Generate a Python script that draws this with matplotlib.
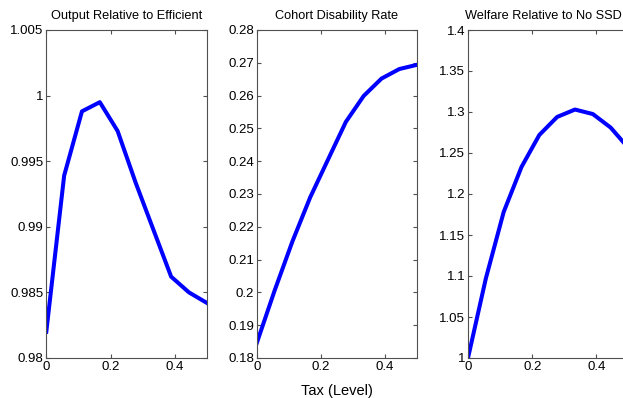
import numpy as np
import matplotlib
matplotlib.use("Agg")
import matplotlib.pyplot as plt
from matplotlib.ticker import FixedLocator, FixedFormatter

plt.rcParams['font.family'] = ['Liberation Sans', 'DejaVu Sans']

# tax grid (level)
tax = [0.0, 0.0556, 0.1111, 0.1667, 0.2222, 0.2778, 0.3333, 0.3889, 0.4444, 0.5]

output_rel = [0.9820, 0.9939, 0.9988, 0.9995, 0.9973, 0.9934, 0.9898, 0.9862, 0.9850, 0.9842]
disability = [0.1845, 0.2005, 0.2155, 0.2290, 0.2405, 0.2520, 0.2599, 0.2652, 0.2681, 0.2694]
welfare = [1.000, 1.097, 1.178, 1.233, 1.272, 1.294, 1.303, 1.2975, 1.281, 1.256]

titles = ["Output Relative to Efficient", "Cohort Disability Rate",
          "Welfare Relative to No SSD"]

yticks_out = [0.98, 0.985, 0.99, 0.995, 1.0, 1.005]
ylabels_out = ["0.98", "0.985", "0.99", "0.995", "1", "1.005"]
yticks_dis = [0.18, 0.19, 0.20, 0.21, 0.22, 0.23, 0.24, 0.25, 0.26, 0.27, 0.28]
ylabels_dis = ["0.18", "0.19", "0.2", "0.21", "0.22", "0.23", "0.24", "0.25",
               "0.26", "0.27", "0.28"]
yticks_wel = [1.0, 1.05, 1.1, 1.15, 1.2, 1.25, 1.3, 1.35, 1.4]
ylabels_wel = ["1", "1.05", "1.1", "1.15", "1.2", "1.25", "1.3", "1.35", "1.4"]
xticks = [0, 0.2, 0.4]
xlabels = ["0", "0.2", "0.4"]

series = [output_rel, disability, welfare]
yt = [yticks_out, yticks_dis, yticks_wel]
yl = [ylabels_out, ylabels_dis, ylabels_wel]

W, H = 623, 398
fig = plt.figure(figsize=(W / 100, H / 100), dpi=100)

# axes boxes in pixels (left edges); third panel runs past the right edge
lefts = [46.3, 256.7, 468.0]
width = 160.5
top, bottom = 30.0, 358.0
title_x = [0.5, 0.5, 0.47]

for i in range(3):
    ax = fig.add_axes([lefts[i] / W, 1 - bottom / H, width / W, (bottom - top) / H])
    ax.plot(tax, series[i], color='#0000ff', lw=2.9)
    ax.set_xlim(0, 0.5)
    ax.set_ylim(yt[i][0], yt[i][-1])
    ax.xaxis.set_major_locator(FixedLocator(xticks))
    ax.xaxis.set_major_formatter(FixedFormatter(xlabels))
    ax.yaxis.set_major_locator(FixedLocator(yt[i]))
    ax.yaxis.set_major_formatter(FixedFormatter(yl[i]))
    ax.tick_params(direction='in', length=3, width=0.8, colors='#505050',
                   labelcolor='black', labelsize=9.5, top=True, right=True, pad=2)
    for s in ax.spines.values():
        s.set_color('#505050')
        s.set_linewidth(0.8)
    ax.set_title(titles[i], fontsize=9.2, pad=8, x=title_x[i])
    if i == 1:
        ax.set_xlabel("Tax (Level)", fontsize=10.5, labelpad=8)

fig.savefig("out.png", dpi=100)
